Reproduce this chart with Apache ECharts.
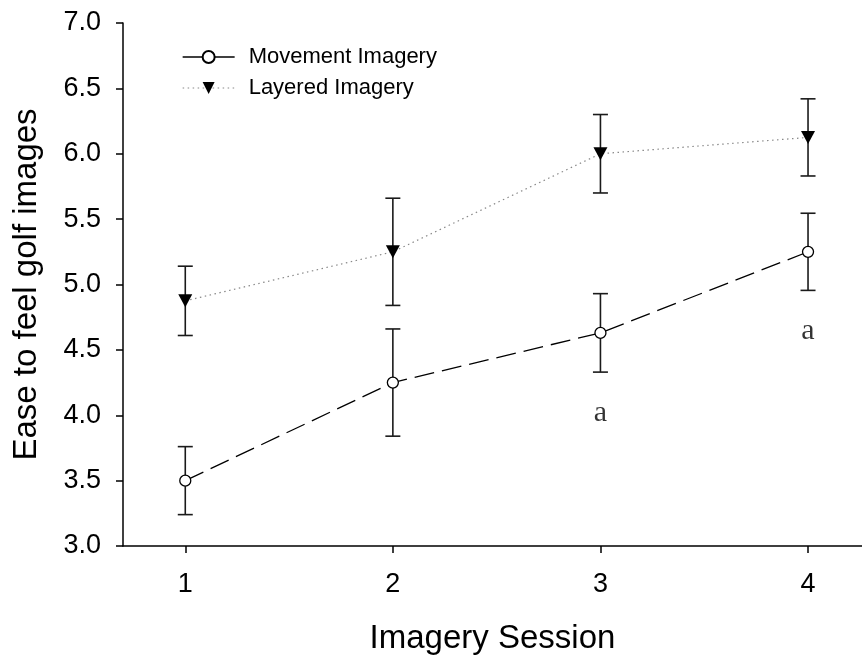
<!DOCTYPE html>
<html><head><meta charset="utf-8">
<script src="https://cdn.jsdelivr.net/npm/echarts@6/dist/echarts.min.js"></script>
<style>html,body{margin:0;padding:0;background:#fff}#c{width:862px;height:660px}</style>
</head><body><div id="c"></div>
<script>
// ---- data ----
const sessions = [1, 2, 3, 4];
const movementMean = [3.50, 4.25, 4.63, 5.25];
const movementErr  = [0.26, 0.41, 0.30, 0.295];
const layeredMean  = [4.875, 5.25, 6.00, 6.125];
const layeredErr   = [0.265, 0.41, 0.30, 0.295];
const xTickValues  = [1, 2, 3, 4];
const annotSessions = [3, 4];
const annotValues   = [4.015, 4.645];
const annotText     = ['a', 'a'];
const seriesNames = ['Movement Imagery', 'Layered Imagery'];

const SANS = '"Liberation Sans", Arial, sans-serif';
const SERIF = '"Liberation Serif", "Times New Roman", serif';

function pairs(xs, ys) { return xs.map((x, i) => [x, ys[i]]); }
function errData(xs, m, e) { return xs.map((x, i) => [x, m[i] - e[i], m[i] + e[i]]); }

function errRender(params, api) {
  const x = api.value(0), lo = api.value(1), hi = api.value(2);
  const pLo = api.coord([x, lo]);
  const pHi = api.coord([x, hi]);
  const hw = 7.5;
  const st = { stroke: '#1a1a1a', lineWidth: 1.6, fill: null };
  return {
    type: 'group',
    children: [
      { type: 'line', shape: { x1: pLo[0], y1: pLo[1], x2: pHi[0], y2: pHi[1] }, style: st },
      { type: 'line', shape: { x1: pLo[0] - hw, y1: pLo[1], x2: pLo[0] + hw, y2: pLo[1] }, style: st },
      { type: 'line', shape: { x1: pHi[0] - hw, y1: pHi[1], x2: pHi[0] + hw, y2: pHi[1] }, style: st }
    ]
  };
}

const chart = echarts.init(document.getElementById('c'), null, { renderer: 'canvas' });
chart.setOption({
  backgroundColor: '#fff',
  animation: false,
  grid: { left: 123, right: 0, top: 23, bottom: 113, containLabel: false },
  legend: {
    orient: 'vertical',
    left: 177,
    top: 41,
    padding: 5,
    itemWidth: 52,
    itemHeight: 15,
    itemGap: 9,
    textStyle: { fontFamily: SANS, fontSize: 22, color: '#000', padding: [0, 0, 0, 9] },
    data: [
      { name: seriesNames[0], lineStyle: { type: 'solid', width: 1.3, color: '#000' } },
      { name: seriesNames[1], lineStyle: { type: [1.5, 3.5], width: 1.2, color: '#888' } }
    ]
  },
  xAxis: {
    type: 'value',
    min: 0.7,
    max: 4.26,
    name: 'Imagery Session',
    nameLocation: 'middle',
    nameGap: 76,
    nameTextStyle: { fontFamily: SANS, fontSize: 33, color: '#000' },
    axisLine: { show: true, onZero: false, lineStyle: { color: '#000', width: 1.5 } },
    axisTick: { show: true, length: 7, inside: false, customValues: xTickValues, lineStyle: { color: '#000', width: 1.5 } },
    axisLabel: { customValues: xTickValues, margin: 25, fontFamily: SANS, fontSize: 27, color: '#000' },
    splitLine: { show: false }
  },
  yAxis: {
    type: 'value',
    min: 3,
    max: 7,
    interval: 0.5,
    name: 'Ease to feel golf images',
    nameLocation: 'middle',
    nameGap: 80,
    nameTextStyle: { fontFamily: SANS, fontSize: 33, color: '#000' },
    axisLine: { show: true, lineStyle: { color: '#000', width: 1.5 } },
    axisTick: { show: true, length: 7, inside: false, lineStyle: { color: '#000', width: 1.5 } },
    axisLabel: { margin: 22, fontFamily: SANS, fontSize: 27, color: '#000', formatter: v => v.toFixed(1) },
    splitLine: { show: false }
  },
  series: [
    {
      type: 'custom', name: 'errMov', renderItem: errRender, z: 1,
      data: errData(sessions, movementMean, movementErr), silent: true
    },
    {
      type: 'custom', name: 'errLay', renderItem: errRender, z: 1,
      data: errData(sessions, layeredMean, layeredErr), silent: true
    },
    {
      name: seriesNames[0], type: 'line', z: 3,
      data: pairs(sessions, movementMean),
      symbol: 'circle', symbolSize: 11,
      itemStyle: { color: '#fff', borderColor: '#000', borderWidth: 1.3 },
      lineStyle: { color: '#000', width: 1.3, type: [20, 8] }
    },
    {
      name: seriesNames[1], type: 'line', z: 3,
      data: pairs(sessions, layeredMean),
      symbol: 'triangle', symbolRotate: 180, symbolSize: [14, 13],
      itemStyle: { color: '#000', borderColor: '#000', borderWidth: 0 },
      lineStyle: { color: '#888', width: 1.2, type: [1.5, 3.5] }
    },
    {
      type: 'scatter', name: 'annot', z: 4, silent: true,
      symbolSize: 0,
      data: annotSessions.map((x, i) => ({ value: [x, annotValues[i]], label: { formatter: annotText[i] } })),
      label: { show: true, position: 'inside', fontFamily: SERIF, fontSize: 30, color: '#000' }
    }
  ]
});
</script></body></html>
